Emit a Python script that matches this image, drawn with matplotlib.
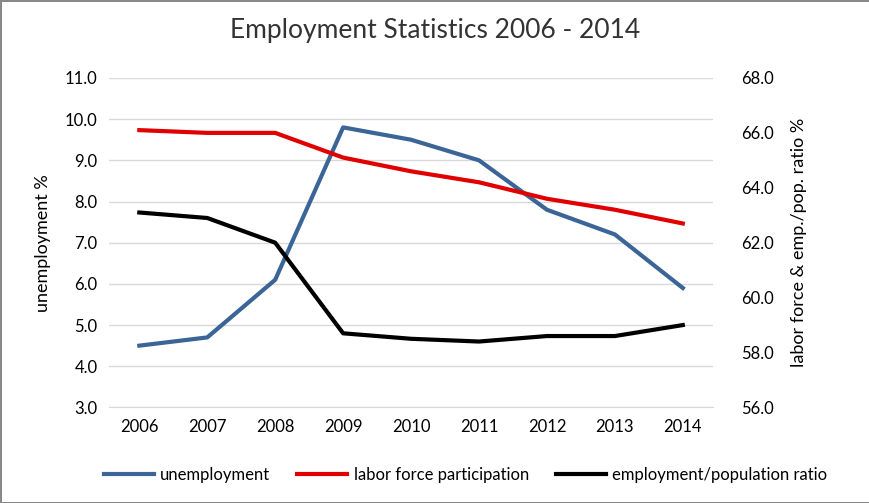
import matplotlib
matplotlib.use("Agg")
import matplotlib.pyplot as plt

plt.rcParams['font.family'] = ['Lato', 'DejaVu Sans']

years = ['2006', '2007', '2008', '2009', '2010', '2011', '2012', '2013', '2014']
unemployment = [4.5, 4.7, 6.1, 9.8, 9.5, 9.0, 7.8, 7.2, 5.9]
labor_force = [66.1, 66.0, 66.0, 65.1, 64.6, 64.2, 63.6, 63.2, 62.7]
emp_pop = [63.1, 62.9, 62.0, 58.7, 58.5, 58.4, 58.6, 58.6, 59.0]

fig = plt.figure(figsize=(8.7, 5.03), dpi=100)
fig.patch.set_edgecolor('#888888')
fig.patch.set_linewidth(2)
ax = fig.add_axes([0.125, 0.19, 0.695, 0.655])
ax2 = ax.twinx()
x = range(len(years))

l1, = ax.plot(x, unemployment, color='#3a6596', lw=3, label='unemployment')
l2, = ax2.plot(x, labor_force, color='#e00000', lw=3, label='labor force participation')
l3, = ax2.plot(x, emp_pop, color='#000000', lw=3, label='employment/population ratio')

ax.set_ylim(3, 11)
ax.set_yticks([3, 4, 5, 6, 7, 8, 9, 10, 11])
ax.set_yticklabels([f'{v:.1f}' for v in range(3, 12)])
ax2.set_ylim(56, 68)
ax2.set_yticks(range(56, 69, 2))
ax2.set_yticklabels([f'{v:.1f}' for v in range(56, 69, 2)])
ax.set_xlim(-0.45, len(years) - 0.55)
ax.set_xticks(list(x))
ax.set_xticklabels(years)
ax.grid(axis='y', color='#d9d9d9', lw=1)
ax.set_axisbelow(True)
for a in (ax, ax2):
    for s in a.spines.values():
        s.set_visible(False)
    a.tick_params(length=0, labelsize=12, colors='#000000', pad=8)
ax2.tick_params(pad=20)
ax.spines['bottom'].set_visible(True)
ax.spines['bottom'].set_color('#d9d9d9')
ax.set_ylabel('unemployment %', fontsize=13, labelpad=10)
ax2.set_ylabel('labor force & emp./pop. ratio %', fontsize=13, labelpad=12)
fig.text(0.5, 0.925, 'Employment Statistics 2006 - 2014', ha='center', fontsize=19, color='#333333')
fig.legend(handles=[l1, l2, l3], loc='lower center', ncol=3, frameon=False,
           fontsize=12, bbox_to_anchor=(0.535, 0.01), handlelength=3.0, columnspacing=1.6,
           handletextpad=0.4)
fig.savefig('out.png', dpi=100)
